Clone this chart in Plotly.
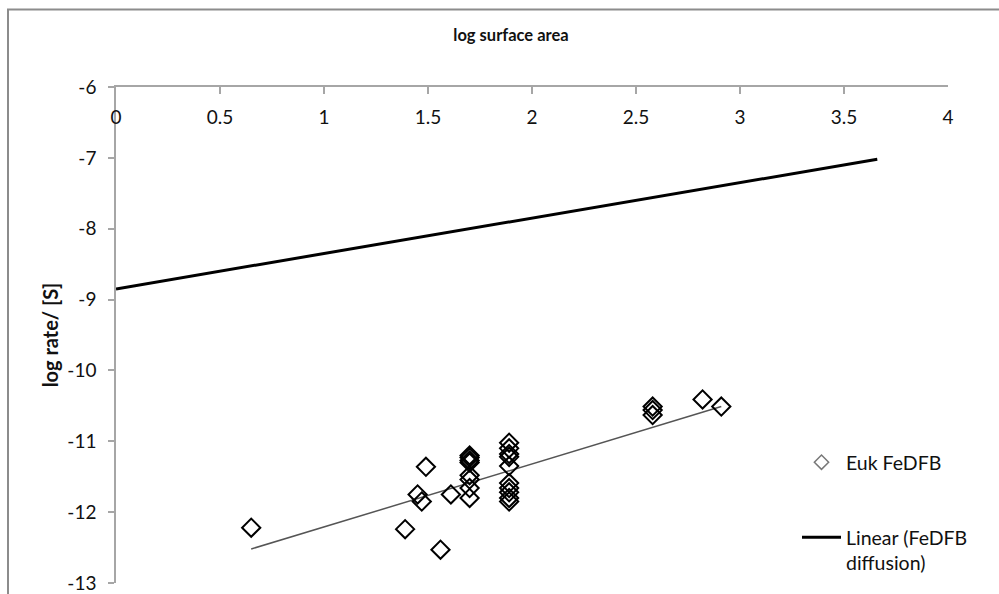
import plotly.graph_objects as go

# Euk FeDFB data (log surface area, log rate/[S])
euk_x = [0.65, 1.39, 1.45, 1.47, 1.49, 1.56, 1.61,
         1.70, 1.70, 1.70, 1.70, 1.70, 1.70, 1.70, 1.70,
         1.89, 1.89, 1.89, 1.89, 1.89, 1.89, 1.89, 1.89, 1.89, 1.89,
         2.58, 2.58, 2.58, 2.82, 2.91]
euk_y = [-12.22, -12.24, -11.75, -11.85, -11.36, -12.53, -11.75,
         -11.20, -11.23, -11.27, -11.30, -11.48, -11.54, -11.66, -11.80,
         -11.02, -11.10, -11.18, -11.22, -11.35, -11.59, -11.66, -11.72, -11.80, -11.85,
         -10.51, -10.56, -10.63, -10.41, -10.51]

# Trendline of Euk FeDFB
euk_trend_x = [0.65, 2.91]
euk_trend_y = [-12.52, -10.51]

# Linear (FeDFB diffusion) line
diff_x = [0.0, 3.66]
diff_y = [-8.85, -7.02]

x_ticks = [0, 0.5, 1, 1.5, 2, 2.5, 3, 3.5, 4]
x_tick_labels = ["0", "0.5", "1", "1.5", "2", "2.5", "3", "3.5", "4"]
y_ticks = [-13, -12, -11, -10, -9, -8, -7, -6]
y_tick_labels = ["-13", "-12", "-11", "-10", "-9", "-8", "-7", "-6"]

FONT = "Lato"
TXT = "#111111"
AX = "#a6a6a6"
W, H = 999, 594
L, R, T, B = 116, 51, 87, 11
PW, PH = W - L - R, H - T - B

fig = go.Figure()

fig.add_trace(go.Scatter(
    x=euk_trend_x, y=euk_trend_y, mode="lines",
    line=dict(color="#555555", width=1.5), showlegend=False, hoverinfo="skip"))

fig.add_trace(go.Scatter(
    x=euk_x, y=euk_y, mode="markers", name="Euk FeDFB",
    marker=dict(symbol="diamond-open", size=14, color="black",
                line=dict(width=2, color="black")),
    showlegend=False))

# legend entry for Euk FeDFB (lighter, smaller symbol as in the original)
fig.add_trace(go.Scatter(
    x=[None], y=[None], mode="markers", name="Euk FeDFB",
    legend="legend",
    marker=dict(symbol="diamond-open", size=11, color="#777777",
                line=dict(width=1.5, color="#777777"))))

fig.add_trace(go.Scatter(
    x=diff_x, y=diff_y, mode="lines", name="Linear (FeDFB<br>diffusion)",
    legend="legend2",
    line=dict(color="black", width=3)))

# empty trace that binds the label-only x axis (x2) so it gets drawn
fig.add_trace(go.Scatter(
    x=x_ticks, y=[None] * len(x_ticks), xaxis="x2", mode="markers",
    showlegend=False, hoverinfo="skip"))

# label-only axis so that the x tick labels sit just below the top axis line
label_pos = (583 - 103.5) / PH

legend_common = dict(xanchor="left", yanchor="top", bgcolor="rgba(0,0,0,0)",
                     itemwidth=39, valign="top",
                     font=dict(family=FONT, size=19.5, color=TXT))

fig.update_layout(
    width=W, height=H,
    margin=dict(l=L, r=R, t=T, b=B, autoexpand=False),
    paper_bgcolor="white", plot_bgcolor="white",
    font=dict(family=FONT, size=19, color=TXT),
    title=dict(text="<b>log surface area</b>", font=dict(family=FONT, size=16.5, color=TXT),
               xref="container", yref="container", x=511 / W, y=1 - 35 / H,
               xanchor="center", yanchor="middle"),
    xaxis=dict(range=[0, 4], side="top", tickvals=x_ticks, ticktext=x_tick_labels,
               ticks="inside", ticklen=7, tickcolor=AX, tickwidth=1.5,
               showline=True, linecolor=AX, linewidth=1.5,
               showgrid=False, zeroline=False, showticklabels=False),
    xaxis2=dict(range=[0, 4], overlaying="x", side="bottom", anchor="free",
                position=label_pos, tickvals=x_ticks, ticktext=x_tick_labels,
                ticks="", showline=False, showgrid=False, zeroline=False,
                tickfont=dict(family=FONT, size=19, color=TXT)),
    yaxis=dict(range=[-13, -6], tickvals=y_ticks, ticktext=y_tick_labels,
               ticks="outside", ticklen=6, tickcolor=AX, tickwidth=1.5,
               showline=True, linecolor=AX, linewidth=1.5,
               showgrid=False, zeroline=False, ticklabelstandoff=8,
               tickfont=dict(family=FONT, size=19, color=TXT),
               title=dict(text="<b>log rate/ [S]</b>", standoff=3,
                          font=dict(family=FONT, size=20, color=TXT))),
    legend=dict(x=(797 - L) / PW, y=(583 - 443) / PH, **legend_common),
    legend2=dict(x=(797 - L) / PW, y=(583 - 518) / PH, **legend_common),
    showlegend=True,
)

# outer chart frame (partially cropped, as in the original)
fig.add_shape(type="rect", xref="paper", yref="paper",
              x0=(8 - L) / PW, x1=(1010 - L) / PW,
              y0=(583 - 610) / PH, y1=(583 - 9.5) / PH,
              line=dict(color="#8c8c8c", width=2), fillcolor="rgba(0,0,0,0)", layer="below")

fig.write_html("out.html")
